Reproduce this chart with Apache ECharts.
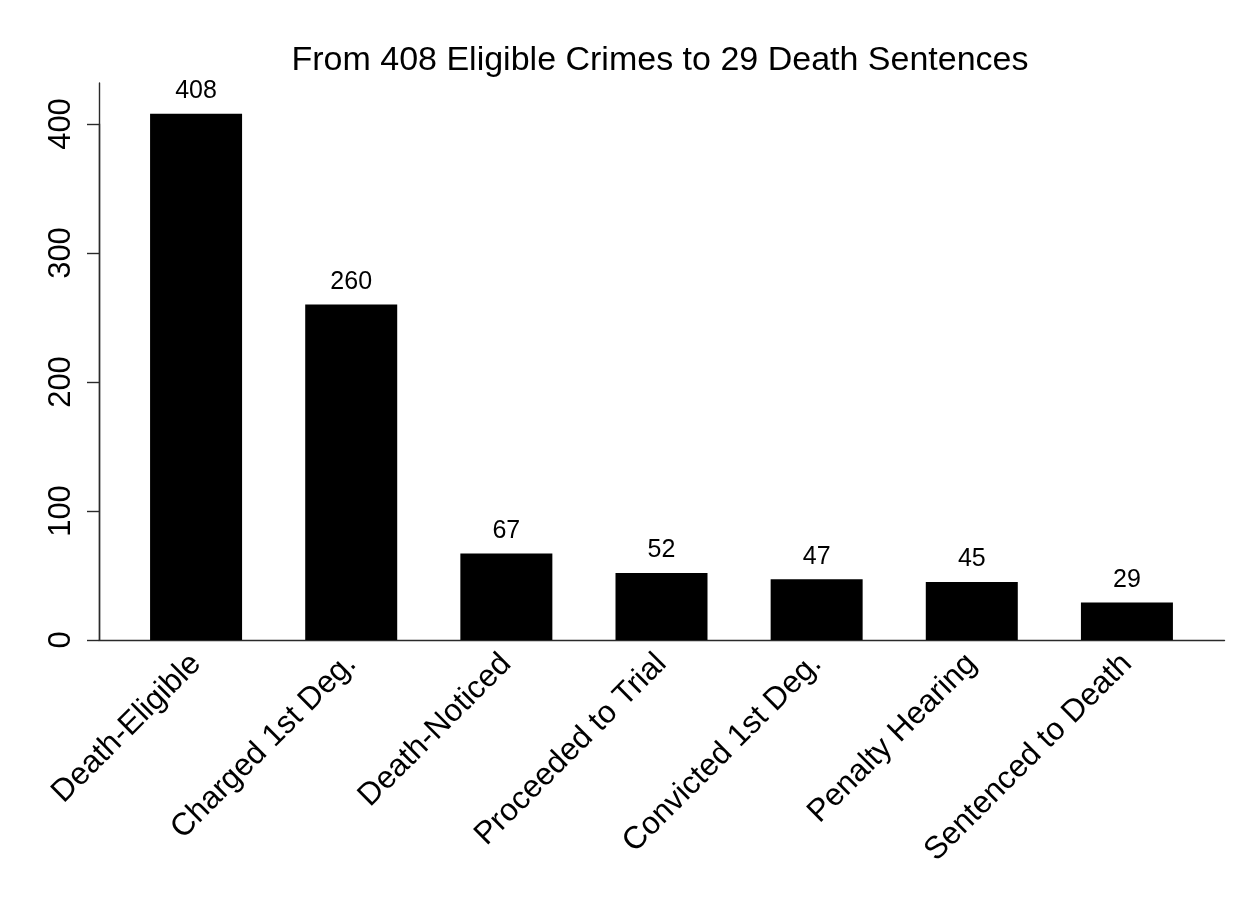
<!DOCTYPE html>
<html>
<head>
<meta charset="utf-8">
<title>From 408 Eligible Crimes to 29 Death Sentences</title>
<script src="https://cdn.jsdelivr.net/npm/echarts@6/dist/echarts.min.js"></script>
<style>
  html, body { margin: 0; padding: 0; background: #ffffff; }
  #chart { width: 1253px; height: 909px; }
</style>
</head>
<body>
<div id="chart"></div>
<script>
// Case-processing stages and how many cases reached each one
const stages = [
  'Death-Eligible',
  'Charged 1st Deg.',
  'Death-Noticed',
  'Proceeded to Trial',
  'Convicted 1st Deg.',
  'Penalty Hearing',
  'Sentenced to Death'
];
const caseCounts = [408, 260, 67, 52, 47, 45, 29];
const yTicks = [0, 100, 200, 300, 400];
const chartTitle = 'From 408 Eligible Crimes to 29 Death Sentences';

const FONT = "'Liberation Sans', Arial, Helvetica, sans-serif";
const INK = '#000000';
const AXIS = '#2a2a2a';

const chart = echarts.init(document.getElementById('chart'), null, { renderer: 'canvas' });

chart.setOption({
  backgroundColor: '#ffffff',
  animation: false,
  title: {
    text: chartTitle,
    left: 655,
    top: 39,
    textAlign: 'center',
    textStyle: { fontFamily: FONT, fontSize: 34, fontWeight: 'normal', color: INK }
  },
  grid: [
    // plot frame: the two axis lines span the full plot region
    { left: 99, right: 28.5, top: 83, bottom: 269, containLabel: false },
    // bar area: category bands inset from the frame, top edge at the 400 tick
    { left: 118.5, right: 48.5, top: 124, bottom: 269, containLabel: false }
  ],
  xAxis: [
    {
      gridIndex: 0, type: 'value', min: 0, max: 1,
      axisLine: { show: true, onZero: false, lineStyle: { color: AXIS, width: 1.4 } },
      axisTick: { show: false }, axisLabel: { show: false }, splitLine: { show: false }
    },
    {
      gridIndex: 1, type: 'category', data: stages,
      axisLine: { show: false }, axisTick: { show: false }, splitLine: { show: false },
      axisLabel: {
        rotate: 45, interval: 0, margin: 19,
        fontFamily: FONT, fontSize: 31.5, color: INK
      }
    }
  ],
  yAxis: [
    {
      gridIndex: 0, type: 'value', min: 0, max: 1,
      axisLine: { show: true, onZero: false, lineStyle: { color: AXIS, width: 1.4 } },
      axisTick: { show: false }, axisLabel: { show: false }, splitLine: { show: false }
    },
    {
      gridIndex: 1, type: 'value',
      min: yTicks[0], max: yTicks[yTicks.length - 1],
      interval: yTicks[1] - yTicks[0],
      offset: 19.5,
      axisLine: { show: true, onZero: false, lineStyle: { color: AXIS, width: 1.4 } },
      axisTick: { show: true, inside: false, length: 12, lineStyle: { color: AXIS, width: 1.4 } },
      splitLine: { show: false },
      axisLabel: {
        rotate: 90, margin: 22,
        fontFamily: FONT, fontSize: 31, color: INK
      }
    }
  ],
  series: [
    {
      type: 'bar',
      xAxisIndex: 1,
      yAxisIndex: 1,
      data: caseCounts,
      barWidth: 92,
      clip: false,
      itemStyle: { color: INK },
      label: {
        show: true, position: 'top', distance: 10,
        fontFamily: FONT, fontSize: 25, color: INK
      }
    }
  ]
});
</script>
</body>
</html>
